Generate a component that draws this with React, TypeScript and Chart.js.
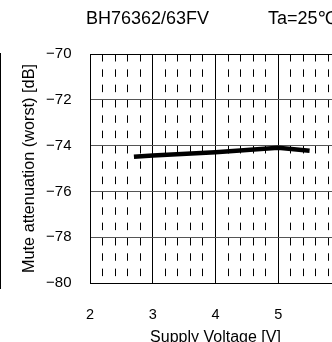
import React, { useEffect, useRef } from "react";
import { Chart, registerables } from "chart.js";

Chart.register(...registerables);

// ---- data ----
const supplyVoltage = [2.7, 3, 4, 5, 5.5];
const muteAttenuation = [-74.49, -74.43, -74.29, -74.09, -74.22];
const yTicks = [-80, -78, -76, -74, -72, -70];
const xTicks = [2, 3, 4, 5, 6];
const chartTitle = "BH76362/63FV";
const conditionLabel = "Ta=25\u2103";
const xTitle = "Supply Voltage [V]";
const yTitle = "Mute attenuation (worst) [dB]";

const FONT = "'Liberation Sans', Arial, Helvetica, sans-serif";

export default function App() {
  const ref = useRef<HTMLCanvasElement | null>(null);

  useEffect(() => {
    if (!ref.current) return;
    const points = supplyVoltage.map((x, i) => ({ x, y: muteAttenuation[i] }));
    const isInt = (v: number) => Math.abs(v - Math.round(v)) < 1e-6;
    const chart = new Chart(ref.current, {
      type: "line",
      data: {
        datasets: [
          {
            data: points,
            borderColor: "#000",
            backgroundColor: "#000",
            borderWidth: 4.5,
            pointRadius: 0,
            tension: 0,
            xAxisID: "x",
            yAxisID: "y",
          },
        ],
      },
      options: {
        animation: false,
        responsive: false,
        devicePixelRatio: 1,
        layout: { padding: { left: 0, top: 54, right: 21.2, bottom: 0 } },
        plugins: { legend: { display: false }, tooltip: { enabled: false }, title: { display: false } },
        scales: {
          x: {
            type: "linear",
            position: "bottom",
            min: xTicks[0],
            max: xTicks[xTicks.length - 1],
            afterBuildTicks: (s: any) => {
              s.ticks = xTicks.map((v) => ({ value: v }));
            },
            afterFit: (s: any) => {
              s.height = 77;
            },
            ticks: {
              color: "#000",
              padding: 23,
              maxRotation: 0,
              font: { family: FONT, size: 14.5 },
              callback: (v: any) => String(v),
            },
            grid: { color: "#000", lineWidth: 1, drawTicks: false },
            border: { display: true, color: "#000", width: 1 },
            title: {
              display: true,
              text: xTitle,
              color: "#000",
              font: { family: FONT, size: 16 },
              padding: { top: 0, bottom: 12.7 },
            },
          },
          xm: {
            type: "linear",
            position: "bottom",
            min: xTicks[0],
            max: xTicks[xTicks.length - 1],
            afterFit: (s: any) => {
              s.height = 0;
            },
            ticks: { display: false, stepSize: 0.2 },
            grid: {
              drawTicks: false,
              lineWidth: 1,
              color: (c: any) => (c.tick && isInt(c.tick.value) ? "rgba(0,0,0,0)" : "#000"),
              borderDash: [7.5, 7.83],
            } as any,
            border: { display: false, dash: [7.5, 7.83] },
          },
          y: {
            type: "linear",
            position: "left",
            min: yTicks[0],
            max: yTicks[yTicks.length - 1],
            afterBuildTicks: (s: any) => {
              s.ticks = yTicks.map((v) => ({ value: v }));
            },
            afterFit: (s: any) => {
              s.width = 90;
            },
            ticks: {
              color: "#000",
              padding: 18.5,
              font: { family: FONT, size: 15 },
              callback: (v: any) => (Number(v) < 0 ? "\u2212" + Math.abs(Number(v)) : String(v)),
            },
            grid: {
              drawTicks: false,
              lineWidth: 1,
              color: (c: any) =>
                c.tick && (c.tick.value === yTicks[0] || c.tick.value === yTicks[yTicks.length - 1])
                  ? "#000"
                  : "#555",
            },
            border: { display: true, color: "#000", width: 1 },
            title: {
              display: true,
              text: yTitle,
              color: "#000",
              font: { family: FONT, size: 16.3 },
              padding: { top: 20, bottom: 0 },
            },
          },
        },
      } as any,
    });
    return () => chart.destroy();
  }, []);

  return (
    <div
      style={{
        position: "fixed",
        left: 0,
        top: 0,
        width: 332,
        height: 342,
        overflow: "hidden",
        background: "#fff",
        fontFamily: FONT,
      }}
    >
      <canvas ref={ref} width={368} height={360} style={{ position: "absolute", left: 0, top: 0, width: 368, height: 360 }} />
      <div style={{ position: "absolute", left: 86, top: 9, fontSize: 18, lineHeight: "18px", whiteSpace: "nowrap", color: "#000" }}>
        {chartTitle}
      </div>
      <div style={{ position: "absolute", left: 268, top: 9, fontSize: 18, lineHeight: "18px", whiteSpace: "nowrap", color: "#000" }}>
        {conditionLabel}
      </div>
      <div style={{ position: "absolute", left: 0, top: 53, width: 1, height: 236, background: "#000" }} />
    </div>
  );
}
